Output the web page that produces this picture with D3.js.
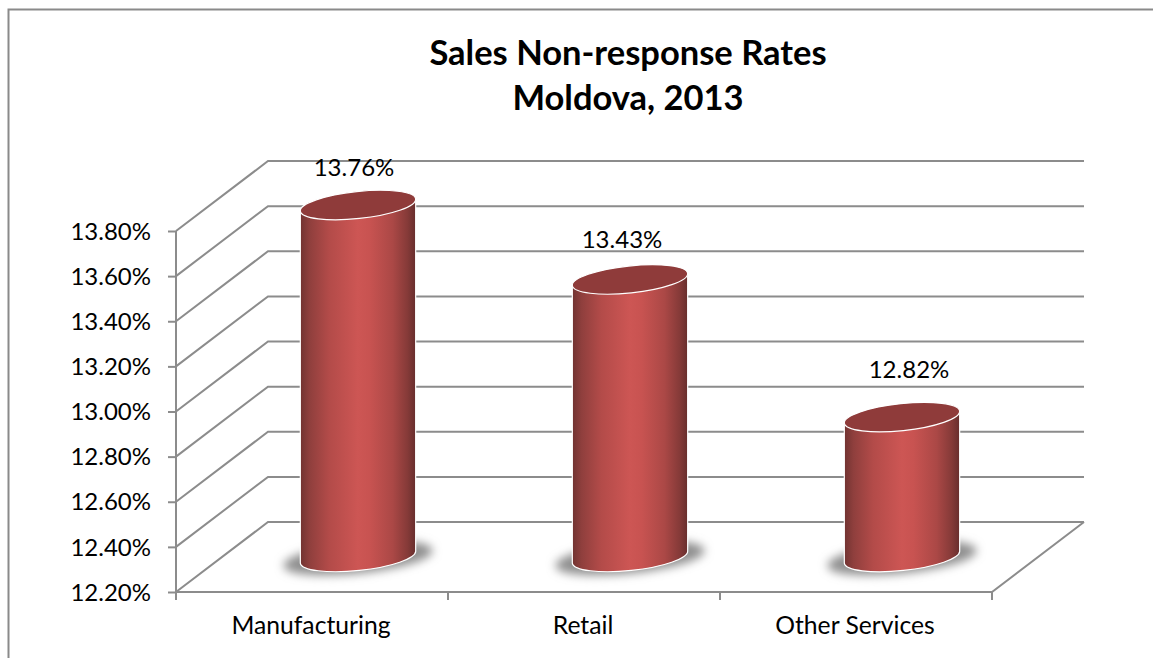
<!DOCTYPE html>
<html>
<head>
<meta charset="utf-8">
<script src="https://cdn.jsdelivr.net/npm/d3@7"></script>
<style>
  html, body { margin: 0; padding: 0; background: #fff; }
  svg { display: block; }
  text { font-family: Lato, "Open Sans", sans-serif; fill: #000; }
</style>
</head>
<body>
<div id="chart"></div>
<script>
var categories = ["Manufacturing", "Retail", "Other Services"];
var rates = [13.76, 13.43, 12.82];
var rateTicks = [12.2, 12.4, 12.6, 12.8, 13.0, 13.2, 13.4, 13.6, 13.8];
var titleLines = ["Sales Non-response Rates", "Moldova, 2013"];

var width = 1153, height = 658;
var depth = {x: 92, y: -70};
var cylRx = 58, cylRy = 13.5, cylTilt = -6;
// hand nudges for the value labels, same order as categories
var labelNudge = [[-4, -37], [-8, -40], [7, -47]];

var svg = d3.select("#chart").append("svg")
    .attr("width", width)
    .attr("height", height);

var defs = svg.append("defs");

var grad = defs.append("linearGradient").attr("id", "cyl");
[[0, "#713331"], [0.08, "#8f3f3d"], [0.25, "#b34b49"], [0.5, "#cd5654"],
 [0.6, "#c85351"], [0.8, "#ab4846"], [0.93, "#853a38"], [1, "#672e2d"]].forEach(function(s){
    grad.append("stop").attr("offset", s[0]).attr("stop-color", s[1]);
});

defs.append("filter").attr("id", "blur")
    .attr("x", "-30%").attr("y", "-60%").attr("width", "160%").attr("height", "220%")
    .append("feGaussianBlur").attr("stdDeviation", 5);

var xScale = d3.scaleBand().domain(categories).range([176, 992]);
var yScale = d3.scaleLinear().domain([12.2, 13.8]).range([592, 231]);
var gridColor = "#8c8c8c";

// outer frame, open on the right
svg.append("path")
    .attr("d", "M8.5,658V9.5H1153")
    .attr("fill", "none")
    .attr("stroke", "#8a8a8a")
    .attr("stroke-width", 2);

// title
svg.append("g").selectAll("text").data(titleLines).enter().append("text")
    .attr("x", 628)
    .attr("y", function(d, i){ return 65 + i * 45; })
    .attr("text-anchor", "middle")
    .style("font-size", "34.5px")
    .style("font-weight", "bold")
    .text(function(d){ return d; });

// back wall lines and the diagonals on the side wall
var grid = svg.append("g").attr("fill", "none").attr("stroke", gridColor).attr("stroke-width", 2);
grid.selectAll("path.wall").data(rateTicks).enter().append("path")
    .attr("class", "wall")
    .attr("d", function(d){
        var y = yScale(d);
        return "M176," + y + "L" + (176 + depth.x) + "," + (y + depth.y) + "H" + (992 + depth.x);
    });
// front axis line, floor edge and right floor diagonal
grid.append("path")
    .attr("d", "M176," + yScale(13.8) + "V" + yScale(12.2) + "H992L" + (992 + depth.x) + "," + (yScale(12.2) + depth.y));

// left axis ticks and labels
var yAxis = d3.axisLeft(yScale)
    .tickValues(rateTicks)
    .tickSize(8)
    .tickFormat(function(d){ return d3.format(".2f")(d) + "%"; });
var yG = svg.append("g").attr("transform", "translate(176,0)").call(yAxis);
yG.select(".domain").remove();
yG.selectAll("line").attr("stroke", gridColor).attr("stroke-width", 2);
yG.selectAll("text").style("font-size", "24px").attr("x", -25).attr("dy", "0.34em");

// bottom axis ticks
var xEdges = categories.map(function(c){ return xScale(c); }).concat([xScale.range()[1]]);
svg.append("g").selectAll("line").data(xEdges).enter().append("line")
    .attr("x1", function(d){ return d; })
    .attr("x2", function(d){ return d; })
    .attr("y1", 592)
    .attr("y2", 600)
    .attr("stroke", gridColor)
    .attr("stroke-width", 2);

svg.append("g").selectAll("text").data(categories).enter().append("text")
    .attr("x", function(d){ return xScale(d) + xScale.bandwidth() / 2 - 1; })
    .attr("y", 634)
    .attr("text-anchor", "middle")
    .style("font-size", "24.7px")
    .text(function(d){ return d; });

// point on the tilted ellipse, t in radians
function ellipsePoint(cx, cy, t) {
    var a = cylTilt * Math.PI / 180;
    var ex = cylRx * Math.cos(t), ey = cylRy * Math.sin(t);
    return [cx + ex * Math.cos(a) - ey * Math.sin(a), cy + ex * Math.sin(a) + ey * Math.cos(a)];
}

function cylinderBody(cx, top, bottom) {
    var l0 = ellipsePoint(cx, top, Math.PI), r0 = ellipsePoint(cx, top, 0);
    var l1 = ellipsePoint(cx, bottom, Math.PI), r1 = ellipsePoint(cx, bottom, 0);
    var arc = "A" + cylRx + "," + cylRy + " " + cylTilt + " 0 0 ";
    return "M" + l0 + "L" + l1 + arc + r1 + "L" + r0 + arc + l0 + "Z";
}

var bars = svg.append("g").selectAll("g").data(categories).enter().append("g");

function cx(d) { return xScale(d) + xScale.bandwidth() / 2 + depth.x / 2; }
function bottomY() { return yScale(12.2) + depth.y / 2; }
function topY(d, i) { return yScale(rates[i]) + depth.y / 2; }

// soft shadow on the floor
bars.append("ellipse")
    .attr("rx", cylRx + 17).attr("ry", cylRy + 2)
    .attr("transform", function(d){ return "translate(" + cx(d) + "," + (bottomY() + 1) + ") rotate(" + cylTilt + ")"; })
    .attr("fill", "#8f8f8f")
    .attr("filter", "url(#blur)");

bars.append("path")
    .attr("d", function(d, i){ return cylinderBody(cx(d), topY(d, i), bottomY()); })
    .attr("fill", "url(#cyl)")
    .attr("stroke", "#fff")
    .attr("stroke-width", 1.2);

bars.append("ellipse")
    .attr("rx", cylRx).attr("ry", cylRy)
    .attr("transform", function(d, i){ return "translate(" + cx(d) + "," + topY(d, i) + ") rotate(" + cylTilt + ")"; })
    .attr("fill", "#8f3b3a")
    .attr("stroke", "#fff")
    .attr("stroke-width", 1.2);

bars.append("text")
    .attr("x", function(d, i){ return cx(d) + labelNudge[i][0]; })
    .attr("y", function(d, i){ return topY(d, i) + labelNudge[i][1]; })
    .attr("dy", "0.34em")
    .attr("text-anchor", "middle")
    .style("font-size", "24px")
    .text(function(d, i){ return d3.format(".2f")(rates[i]) + "%"; });
</script>
</body>
</html>
